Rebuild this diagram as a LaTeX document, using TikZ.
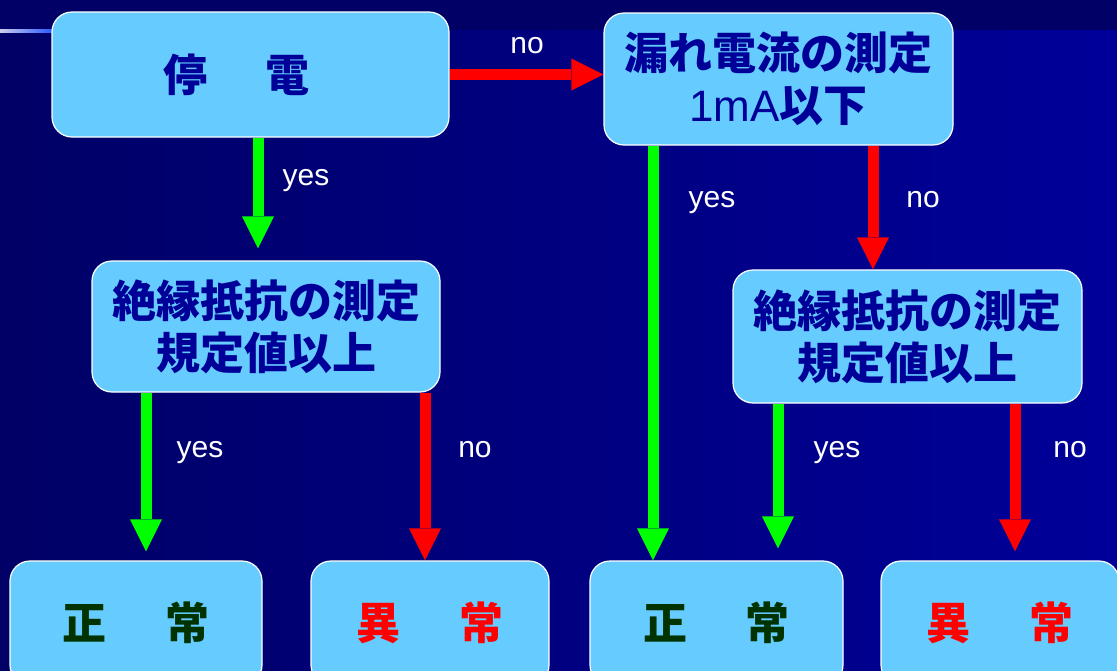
\documentclass[tikz,border=0pt]{standalone}
\usepackage{fontspec}
\setmainfont{Liberation Sans}
\newfontfamily\jpfont{Noto Sans CJK JP}
\usetikzlibrary{arrows.meta}

\definecolor{fondo}{HTML}{000066}
\definecolor{fondoder}{HTML}{000099}
\definecolor{cajacolor}{HTML}{66CCFF}
\definecolor{textoazul}{HTML}{000099}
\definecolor{verde}{HTML}{00FF00}
\definecolor{rojo}{HTML}{FF0000}
\definecolor{verdeosc}{HTML}{003300}
\definecolor{lineaizq}{RGB}{205,205,235}
\definecolor{lineader}{RGB}{40,90,255}

\tikzset{
    caja/.style={draw=white, line width=1.2pt, fill=cajacolor, rounded corners=20pt,
        inner sep=0pt, align=center, text=textoazul,
        font={\jpfont\bfseries\fontsize{44}{52}\selectfont}},
    flechasi/.style={draw=verde, line width=11pt, -{Triangle[length=32pt,width=32pt,line width=0pt]}},
    flechano/.style={draw=rojo, line width=11pt, -{Triangle[length=32pt,width=32pt,line width=0pt]}},
    etiqueta/.style={text=white, anchor=base, font={\fontsize{30}{36}\selectfont}}
}

\begin{document}
\begin{tikzpicture}[x=1pt, y=-1pt]
    \useasboundingbox (0,0) rectangle (1117,670);

    % Fondo de la diapositiva
    \shade[left color=fondo, right color=fondoder] (0,0) rectangle (1117,670);
    \fill[fondo] (0,0) rectangle (1117,30);
    \shade[left color=lineaizq, right color=lineader] (0,29) rectangle (52,32);

    % Cajas del diagrama
    \node[caja, minimum width=397pt, minimum height=125pt] (teiden) at (250.5,74.5) {停\hspace{59pt}電\hspace{28pt}};
    \node[caja, minimum width=349pt, minimum height=132pt] (more) at (778.5,79) {漏れ電流の測定\\{\normalfont 1mA}以下\hspace{10pt}};
    \node[caja, minimum width=348pt, minimum height=131pt] (zetsu1) at (266,326.5) {絶縁抵抗の測定\\規定値以上};
    \node[caja, minimum width=349pt, minimum height=133pt] (zetsu2) at (907.5,336.5) {絶縁抵抗の測定\\規定値以上};

    % Resultados
    \node[caja, minimum width=252pt, minimum height=124pt, text=verdeosc] (sei1) at (136,623) {正\hspace{59pt}常};
    \node[caja, minimum width=238pt, minimum height=124pt, text=rojo] (ijo1) at (430,623) {異\hspace{59pt}常};
    \node[caja, minimum width=253pt, minimum height=124pt, text=verdeosc] (sei2) at (716.5,623) {正\hspace{59pt}常};
    \node[caja, minimum width=238pt, minimum height=124pt, text=rojo] (ijo2) at (1000,623) {異\hspace{59pt}常};

    % Columnas de las flechas
    \coordinate (c1) at (258,0);
    \coordinate (c2) at (653,0);
    \coordinate (c3) at (873,0);
    \coordinate (c4) at (146,0);
    \coordinate (c5) at (425,0);
    \coordinate (c6) at (778,0);
    \coordinate (c7) at (1015,0);

    % Flechas
    \draw[flechano] (teiden.east) -- (teiden.east -| more.west);
    \draw[flechasi, shorten >=12pt] (teiden.south -| c1) -- (zetsu1.north -| c1);
    \draw[flechasi] (more.south -| c2) -- (sei2.north -| c2);
    \draw[flechano] (more.south -| c3) -- (zetsu2.north -| c3);
    \draw[flechasi, shorten >=9pt] (zetsu1.south -| c4) -- (sei1.north -| c4);
    \draw[flechano] (zetsu1.south -| c5) -- (ijo1.north -| c5);
    \draw[flechasi, shorten >=12pt] (zetsu2.south -| c6) -- (sei2.north -| c6);
    \draw[flechano, shorten >=9pt] (zetsu2.south -| c7) -- (ijo2.north -| c7);

    % Etiquetas
    \node[etiqueta] (l1) at (527,53) {no};
    \node[etiqueta] (l2) at (306,185) {yes};
    \node[etiqueta] (l3) at (712,207) {yes};
    \node[etiqueta] (l4) at (923,207) {no};
    \node[etiqueta] (l5) at (200,457) {yes};
    \node[etiqueta] (l6) at (475,457) {no};
    \node[etiqueta] (l7) at (837,457) {yes};
    \node[etiqueta] (l8) at (1070,457) {no};

\end{tikzpicture}
\end{document}
